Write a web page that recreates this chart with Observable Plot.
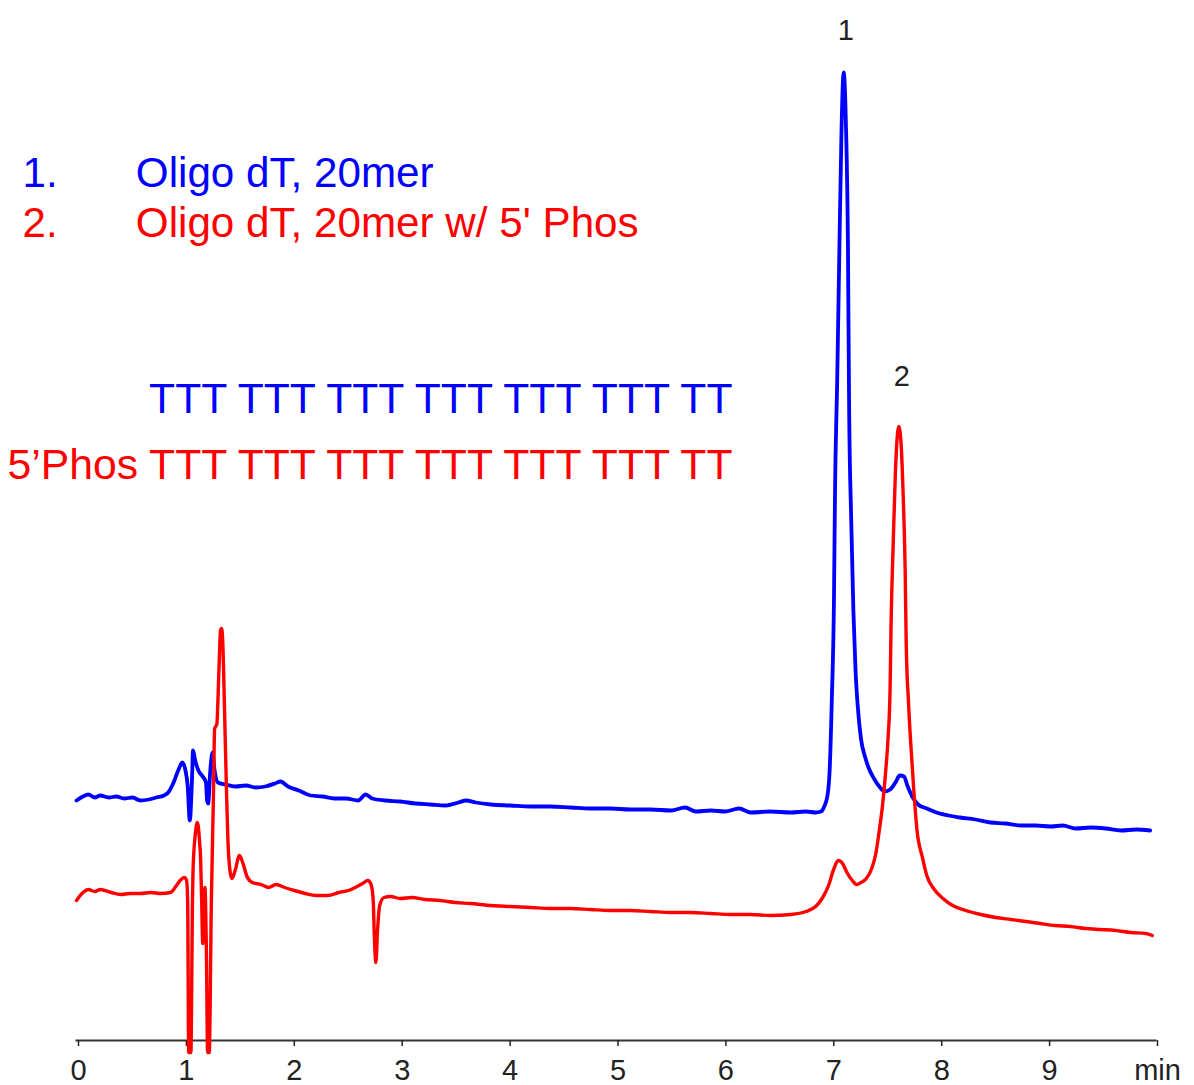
<!DOCTYPE html>
<html>
<head>
<meta charset="utf-8">
<script src="https://cdn.jsdelivr.net/npm/d3@7"></script>
<script src="https://cdn.jsdelivr.net/npm/@observablehq/plot@0.6"></script>
<style>
  html, body { margin: 0; padding: 0; background: #fff; }
</style>
</head>
<body>
<div id="chart"></div>
<script>
// ---- Data ----
// Retention time (min) and detector signal (arbitrary units) for trace 1 (blue)
const blueTime = [0.00,0.06,0.11,0.17,0.22,0.30,0.37,0.44,0.52,0.59,0.67,0.74,0.81,0.85,0.90,0.95,0.98,1.01,1.03,1.05,1.07,1.08,1.10,1.13,1.17,1.20,1.21,1.22,1.24,1.26,1.28,1.31,1.38,1.47,1.57,1.66,1.75,1.84,1.89,1.96,2.06,2.17,2.28,2.39,2.50,2.61,2.68,2.74,2.86,3.00,3.14,3.28,3.42,3.54,3.61,3.70,3.84,4.02,4.21,4.39,4.58,4.76,4.95,5.13,5.32,5.51,5.64,5.74,5.88,6.01,6.14,6.25,6.43,6.62,6.76,6.85,6.90,6.93,6.96,6.98,7.00,7.02,7.03,7.05,7.07,7.09,7.11,7.13,7.15,7.16,7.18,7.20,7.22,7.24,7.27,7.31,7.34,7.39,7.44,7.49,7.54,7.59,7.63,7.67,7.70,7.75,7.80,7.88,7.97,8.08,8.19,8.33,8.47,8.61,8.75,8.89,9.03,9.14,9.26,9.40,9.54,9.68,9.82,9.95];
const blueSignal = [24.0,24.4,24.6,24.3,24.5,24.3,24.4,24.2,24.3,24.0,24.1,24.3,24.5,24.8,25.8,27.2,27.8,27.0,25.5,22.0,26.0,29.0,28.0,27.0,26.4,25.8,24.0,23.7,27.0,28.8,27.0,25.8,25.6,25.4,25.5,25.3,25.4,25.7,25.9,25.4,25.0,24.5,24.4,24.2,24.2,24.0,24.6,24.2,24.0,23.9,23.7,23.6,23.5,23.8,24.0,23.8,23.6,23.5,23.4,23.4,23.3,23.2,23.2,23.1,23.1,23.0,23.3,22.9,23.0,22.9,23.2,22.8,22.9,22.8,22.9,22.8,22.9,23.4,24.5,27.0,34.0,44.0,55.0,66.0,79.0,91.0,96.8,92.0,79.0,64.0,52.0,43.0,37.0,33.5,30.2,28.3,27.3,26.2,25.4,24.9,25.1,25.8,26.5,26.4,25.5,24.3,23.6,23.2,22.8,22.5,22.3,22.1,21.8,21.7,21.5,21.5,21.4,21.5,21.2,21.3,21.2,21.0,21.1,21.0];

// Trace 2 (red)
const redTime = [0.00,0.06,0.11,0.17,0.22,0.32,0.41,0.50,0.59,0.69,0.78,0.87,0.92,0.96,1.00,1.02,1.03,1.04,1.06,1.075,1.08,1.10,1.12,1.14,1.15,1.16,1.17,1.18,1.19,1.205,1.215,1.23,1.25,1.27,1.28,1.30,1.32,1.335,1.345,1.355,1.37,1.39,1.41,1.44,1.47,1.51,1.54,1.58,1.63,1.71,1.78,1.85,1.93,2.02,2.12,2.22,2.33,2.43,2.52,2.60,2.65,2.70,2.73,2.75,2.76,2.775,2.79,2.81,2.85,2.91,3.00,3.11,3.23,3.37,3.51,3.65,3.84,4.02,4.21,4.39,4.58,4.76,4.95,5.13,5.32,5.51,5.69,5.88,6.06,6.25,6.43,6.62,6.76,6.85,6.91,6.97,7.02,7.06,7.10,7.14,7.19,7.23,7.27,7.32,7.37,7.41,7.44,7.47,7.50,7.52,7.54,7.55,7.57,7.59,7.61,7.62,7.64,7.66,7.68,7.69,7.71,7.73,7.76,7.79,7.84,7.88,7.95,8.03,8.12,8.24,8.38,8.52,8.66,8.80,8.93,9.07,9.21,9.35,9.49,9.63,9.77,9.91,9.97];
const redSignal = [14.0,14.8,15.1,14.9,15.1,14.8,14.6,14.7,14.7,14.8,14.7,14.8,15.4,16.0,16.3,16.0,14.0,-1.2,-1.2,14.0,17.0,20.5,21.8,20.0,18.2,14.0,9.7,14.0,15.3,8.0,-1.2,-1.2,14.0,25.0,31.2,31.6,37.0,41.0,41.2,40.0,34.0,25.0,18.5,16.2,17.0,18.5,17.8,16.4,15.8,15.6,15.3,15.6,15.3,15.0,14.7,14.5,14.5,14.8,15.0,15.4,15.7,16.0,15.6,14.0,10.5,7.8,11.0,13.5,14.3,14.4,14.2,14.3,14.1,14.0,13.8,13.7,13.5,13.4,13.3,13.2,13.2,13.1,13.0,13.0,12.9,12.8,12.8,12.7,12.6,12.6,12.5,12.6,12.9,13.4,14.2,15.5,17.2,18.0,17.7,16.8,16.0,15.6,15.8,16.2,17.2,18.8,21.0,23.5,27.0,30.0,35.0,42.0,50.0,57.0,60.8,61.4,60.0,55.0,47.0,39.5,34.0,30.0,25.0,21.0,18.3,16.5,15.1,14.2,13.5,13.0,12.6,12.3,12.1,11.9,11.7,11.5,11.4,11.2,11.1,11.0,10.8,10.7,10.5];

// X axis ticks and their labels
const xTicks = [0,1,2,3,4,5,6,7,8,9,10];
const xTickLabels = ["0","1","2","3","4","5","6","7","8","9","min"];

// Legend / annotation texts (placed in data coordinates)
const legendNumbers = ["1.", "2."];
const legendNames = ["Oligo dT, 20mer", "Oligo dT, 20mer w/ 5' Phos"];
const legendColors = ["#0000ff", "#ff0000"];
const legendTime = [-0.50, 0.55];
const legendSignal = [85.4, 80.4];

const sequenceTexts = ["TTT TTT TTT TTT TTT TTT TT", "5\u2019Phos TTT TTT TTT TTT TTT TTT TT"];
const sequenceTime = 6.08;
const sequenceSignal = [62.8, 56.2];

const peakLabels = ["1", "2"];
const peakTime = [7.13, 7.65];
const peakLabelSignal = [100.1, 65.5];

// ---- Build tables ----
const blue = blueTime.map((t, i) => ({time: t, signal: blueSignal[i]}));
const red = redTime.map((t, i) => ({time: t, signal: redSignal[i]}));

const legendNum = legendNumbers.map((s, i) => ({text: s, time: legendTime[0], signal: legendSignal[i], color: legendColors[i]}));
const legendName = legendNames.map((s, i) => ({text: s, time: legendTime[1], signal: legendSignal[i], color: legendColors[i]}));
const seqRows = sequenceTexts.map((s, i) => ({text: s, time: sequenceTime, signal: sequenceSignal[i], color: legendColors[i]}));
const peaks = peakLabels.map((s, i) => ({text: s, time: peakTime[i], signal: peakLabelSignal[i]}));

const font = "'Liberation Sans', Arial, Helvetica, sans-serif";

const chart = Plot.plot({
  width: 1194,
  height: 1085,
  marginLeft: 76,
  marginRight: 39,
  marginTop: 40,
  marginBottom: 45,
  style: {fontFamily: font, background: "#fff", overflow: "visible"},
  x: {domain: [0, 10], label: null},
  y: {domain: [0, 100], axis: null},
  marks: [
    Plot.frame({anchor: "bottom", stroke: "#333", strokeWidth: 2}),
    Plot.axisX({
      ticks: xTicks,
      tickFormat: d => xTickLabels[xTicks.indexOf(d)],
      label: null,
      tickSize: 6,
      tickPadding: 13,
      fontSize: 29,
      dx: 2,
      color: "#222",
      strokeWidth: 1.5
    }),
    Plot.lineY(blue, {x: "time", y: "signal", stroke: "#0000ff", strokeWidth: 3.8, curve: "monotone-x"}),
    Plot.lineY(red, {x: "time", y: "signal", stroke: "#ff0000", strokeWidth: 3.4, curve: "monotone-x"}),
    Plot.text(legendNum, {x: "time", y: "signal", text: "text", fill: "color", textAnchor: "start", lineAnchor: "bottom", fontSize: 42}),
    Plot.text(legendName, {x: "time", y: "signal", text: "text", fill: "color", textAnchor: "start", lineAnchor: "bottom", fontSize: 42.2}),
    Plot.text(seqRows, {x: "time", y: "signal", text: "text", fill: "color", textAnchor: "end", lineAnchor: "bottom", fontSize: 42.7}),
    Plot.text(peaks, {x: "time", y: "signal", text: "text", fill: "#222", textAnchor: "middle", lineAnchor: "bottom", fontSize: 29})
  ]
});

document.getElementById("chart").appendChild(chart);
</script>
</body>
</html>
